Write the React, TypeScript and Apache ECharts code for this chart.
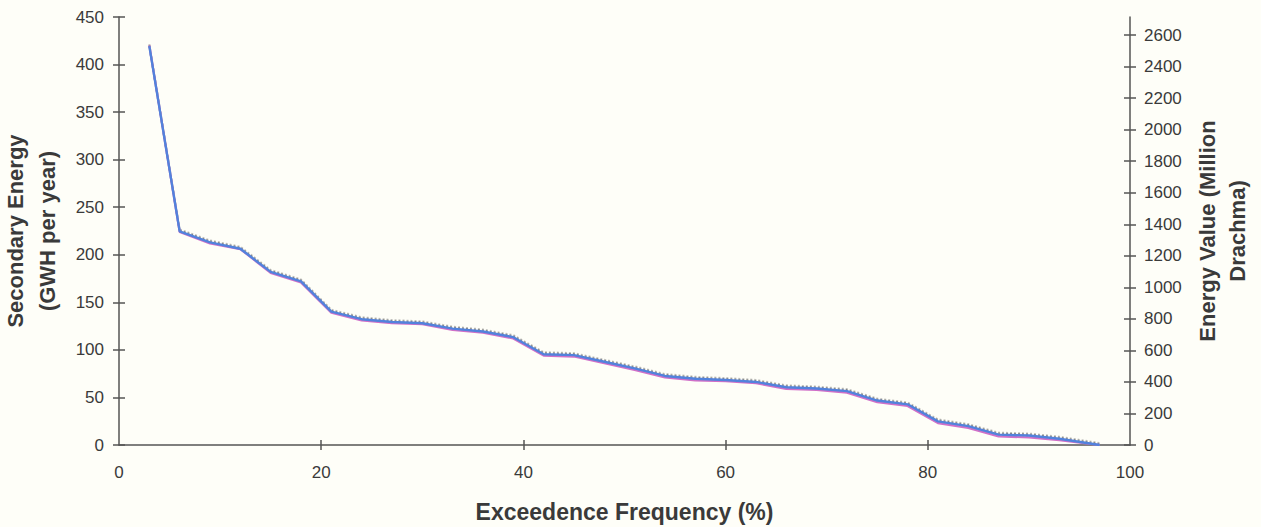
import React, { useEffect, useRef } from "react";
import * as echarts from "echarts";

const freq = [3, 6, 9, 12, 15, 18, 21, 24, 27, 30, 33, 36, 39, 42, 45, 48, 51, 54, 57, 60, 63, 66, 69, 72, 75, 78, 81, 84, 87, 90, 93, 97];
const energyGwh = [420, 224, 212, 206, 181, 171, 139, 131, 128, 127, 121, 118, 112, 94, 93, 86, 79, 71, 68, 67, 65, 59, 58, 55, 45, 41, 23, 18, 9, 8, 5, 0];
const valueDrachma = [2530, 1355, 1285, 1245, 1098, 1038, 846, 798, 780, 772, 738, 720, 684, 576, 570, 528, 486, 438, 420, 412, 400, 366, 358, 342, 282, 258, 150, 120, 66, 60, 40, 0];
const xTicks = [0, 20, 40, 60, 80, 100];
const leftTicks = [0, 50, 100, 150, 200, 250, 300, 350, 400, 450];
const rightTicks = [0, 200, 400, 600, 800, 1000, 1200, 1400, 1600, 1800, 2000, 2200, 2400, 2600];

const FONT = "'Liberation Sans', Arial, Helvetica, sans-serif";
const AX = "#555";
const TXT = "#3a3a3a";

export default function App() {
  const ref = useRef<HTMLDivElement>(null);
  useEffect(() => {
    if (!ref.current) return;
    const chart = echarts.init(ref.current, undefined, { renderer: "svg" });
    const energyPts = freq.map((f, i) => [f, energyGwh[i]]);
    const valuePts = freq.map((f, i) => [f, valueDrachma[i]]);
    const axisLine = { show: true, lineStyle: { color: AX, width: 1.5 } };
    const plain = (v: number) => String(v);
    chart.setOption({
      animation: false,
      backgroundColor: "#fefef8",
      textStyle: { fontFamily: FONT },
      grid: { left: 119, right: 131, top: 17, bottom: 82, containLabel: false, outerBoundsMode: "none" },
      xAxis: [
        {
          type: "value", min: 0, max: 100, interval: 20,
          axisLine, splitLine: { show: false },
          axisTick: { show: true, length: 5, lineStyle: { color: AX, width: 1.5 }, customValues: [20, 40, 60, 80] },
          axisLabel: { color: TXT, fontSize: 17, margin: 19, fontFamily: FONT, customValues: xTicks, formatter: plain },
          name: "Exceedence Frequency (%)", nameLocation: "middle", nameGap: 55,
          nameTextStyle: { color: TXT, fontSize: 23, fontWeight: "bold", fontFamily: FONT },
        },
        {
          type: "value", min: 0, max: 100, position: "bottom",
          axisLine: { show: false }, splitLine: { show: false }, axisLabel: { show: false },
          axisTick: { show: true, inside: true, length: 5, lineStyle: { color: AX, width: 1.5 }, customValues: [20, 40, 60, 80] },
        },
      ],
      yAxis: [
        {
          type: "value", min: 0, max: 450, interval: 50, position: "left",
          axisLine, splitLine: { show: false },
          axisTick: { show: true, length: 6, lineStyle: { color: AX, width: 1.5 } },
          axisLabel: { color: TXT, fontSize: 17, margin: 15, fontFamily: FONT, customValues: leftTicks, formatter: plain },
          name: "Secondary Energy\n(GWH per year)", nameLocation: "middle", nameGap: 56, nameRotate: 90,
          nameTextStyle: { color: TXT, fontSize: 22, fontWeight: "bold", fontFamily: FONT, lineHeight: 32 },
        },
        {
          type: "value", min: 0, max: 450, interval: 50, position: "left",
          axisLine: { show: false }, splitLine: { show: false }, axisLabel: { show: false },
          axisTick: { show: true, inside: true, length: 6, lineStyle: { color: AX, width: 1.5 } },
        },
        {
          type: "value", min: 0, max: 2715, position: "right",
          axisLine, splitLine: { show: false },
          axisTick: { show: true, length: 6, lineStyle: { color: AX, width: 1.5 }, customValues: rightTicks },
          axisLabel: { color: TXT, fontSize: 17, margin: 14, fontFamily: FONT, customValues: rightTicks, formatter: plain },
          name: "Energy Value (Million\nDrachma)", nameLocation: "middle", nameGap: 62, nameRotate: 90,
          nameTextStyle: { color: TXT, fontSize: 22, fontWeight: "bold", fontFamily: FONT, lineHeight: 30 },
        },
        {
          type: "value", min: 0, max: 2715, position: "right",
          axisLine: { show: false }, splitLine: { show: false }, axisLabel: { show: false },
          axisTick: { show: true, inside: true, length: 6, lineStyle: { color: AX, width: 1.5 }, customValues: rightTicks },
        },
      ],
      series: [
        {
          name: "Energy (GWh)", type: "line", xAxisIndex: 0, yAxisIndex: 0, data: energyPts,
          showSymbol: false, symbol: "none",
          lineStyle: { color: "#d070c8", width: 2.2 },
          z: 2,
        },
        {
          name: "Value dotted", type: "line", xAxisIndex: 0, yAxisIndex: 2, data: valuePts,
          showSymbol: false, symbol: "none",
          lineStyle: { color: "#8a8a8a", width: 2, type: [2, 2], shadowColor: "rgba(120,120,120,0.9)", shadowOffsetY: -1.5, shadowBlur: 0 },
          z: 1,
        },
        {
          name: "Value (Million Drachma)", type: "line", xAxisIndex: 0, yAxisIndex: 2, data: valuePts,
          showSymbol: false, symbol: "none",
          lineStyle: { color: "#5282dc", width: 2.4 },
          z: 3,
        },
      ],
    });
    return () => chart.dispose();
  }, []);
  return <div ref={ref} style={{ width: 1261, height: 527, position: "absolute", left: 0, top: 0 }} />;
}
